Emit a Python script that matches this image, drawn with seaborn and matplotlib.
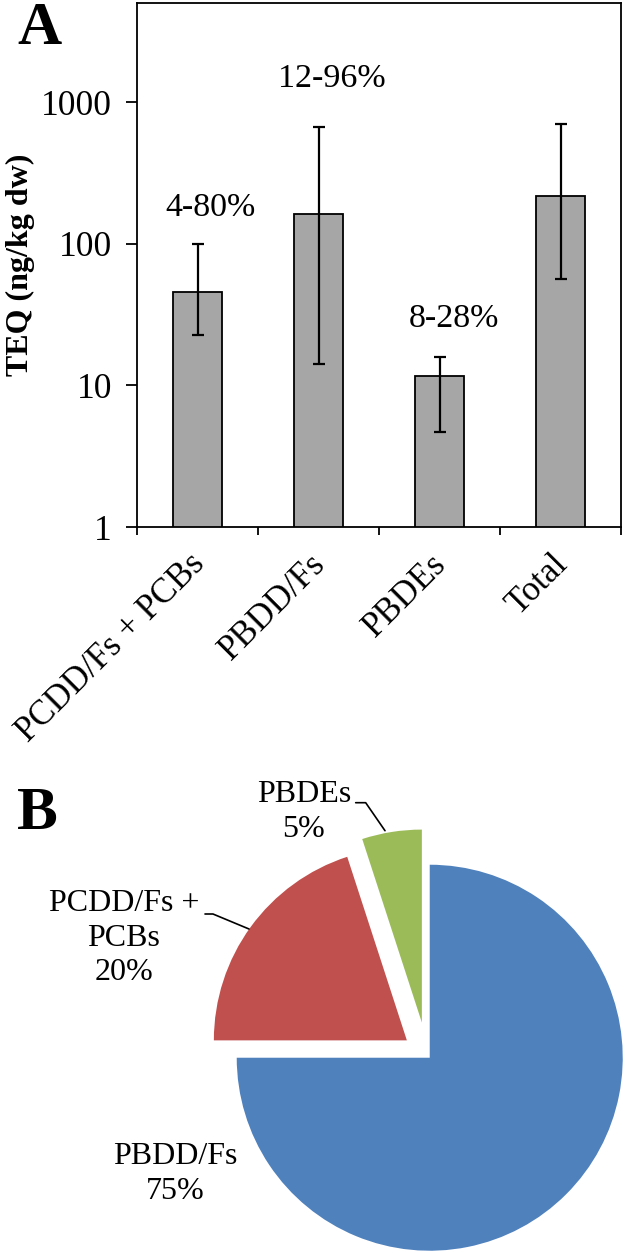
import numpy as np
import pandas as pd
import matplotlib
matplotlib.use("Agg")
import matplotlib.pyplot as plt
from matplotlib.transforms import ScaledTranslation
import seaborn as sns

# ---------------- data ----------------
categories = ["PCDD/Fs + PCBs", "PBDD/Fs", "PBDEs", "Total"]
teq_mean = [45.5, 163, 11.6, 217]
teq_high = [99, 668, 15.9, 705]
teq_low = [22.7, 14.2, 4.7, 56.5]
range_labels = ["4-80%", "12-96%", "8-28%", ""]

pie_names = ["PBDD/Fs", "PCDD/Fs +\nPCBs", "PBDEs"]
pie_shares = [75, 20, 5]
pie_colors = ["#4F81BD", "#C0504D", "#9BBB59"]

y_ticks = [1, 10, 100, 1000]
y_tick_labels = ["1", "10", "100", "1000"]

# ---------------- style ----------------
sns.set_theme(style="ticks")
plt.rcParams["font.family"] = ["Liberation Serif", "DejaVu Serif"]
plt.rcParams["text.color"] = "black"
plt.rcParams["axes.edgecolor"] = "black"
plt.rcParams["xtick.color"] = "black"
plt.rcParams["ytick.color"] = "black"
plt.rcParams["axes.labelcolor"] = "black"

W, H = 625, 1253
fig = plt.figure(figsize=(W / 100, H / 100), dpi=100)

# ---------------- panel A: bar chart ----------------
axL, axR, axT, axB = 137, 621, 3, 527
ax = fig.add_axes([axL / W, 1 - axB / H, (axR - axL) / W, (axB - axT) / H])

df = pd.DataFrame({"cat": categories, "teq": teq_mean})
sns.barplot(data=df, x="cat", y="teq", color="#A6A6A6", edgecolor="black",
            linewidth=1.3, width=0.4, saturation=1, ax=ax)
mean = np.array(teq_mean)
yerr = [mean - np.array(teq_low), np.array(teq_high) - mean]
ax.errorbar(np.arange(len(categories)), mean, yerr=yerr, fmt="none",
            ecolor="black", elinewidth=1.6, capsize=4, capthick=1.6)

ax.set_yscale("log")
ax.set_ylim(1, 5000)
ax.set_xlim(-0.5, len(categories) - 0.5)
ax.set_yticks(y_ticks, y_tick_labels)
ax.yaxis.set_minor_locator(matplotlib.ticker.NullLocator())
ax.tick_params(axis="y", which="major", direction="out", length=8, width=1.3,
               labelsize=25.5, pad=10)

# major x ticks at category boundaries (no labels), minor at centers with labels
ax.set_xticks(np.arange(-0.5, len(categories)), [""] * (len(categories) + 1))
ax.set_xticks(np.arange(len(categories)), categories, minor=True)
ax.tick_params(axis="x", which="major", direction="out", length=6, width=1.3)
ax.tick_params(axis="x", which="minor", length=0, labelsize=25, pad=15)
for lbl in ax.get_xticklabels(minor=True):
    lbl.set_rotation(45)
    lbl.set_ha("right")
    lbl.set_va("top")
    lbl.set_transform(lbl.get_transform() + ScaledTranslation(14 / 100, 0, fig.dpi_scale_trans))

for s in ax.spines.values():
    s.set_visible(True)
    s.set_linewidth(1.3)
    s.set_color("black")

ax.set_xlabel("")
ax.set_ylabel("TEQ (ng/kg dw)", fontsize=23, fontweight="bold", va="center")
ax.yaxis.set_label_coords(-0.2417, 0.5)

# range annotations (layout positions)
ann_x = [0.11, 1.107, 2.12]
ann_y = [157, 1276, 26.0]
for xx, yy, t in zip(ann_x, ann_y, range_labels):
    ax.text(xx, yy, t, ha="center", va="baseline", fontsize=24.5)

fig.text(39.5 / W, 1 - 44 / H, "A", fontsize=44, fontweight="bold",
         ha="center", va="baseline")

# ---------------- panel B: pie chart ----------------
pcx, pcy, pr = 427, 1055, 193
top_px = 760
axp = fig.add_axes([0, 0, 1, (H - top_px) / H])
wedges, _ = axp.pie(pie_shares, colors=pie_colors, startangle=90,
                    counterclock=False, explode=[0.02, 0.129, 0.17],
                    radius=1, wedgeprops=dict(linewidth=0))
axp.set_xlim(-pcx / pr, (W - pcx) / pr)
axp.set_ylim(-(H - pcy) / pr, (pcy - top_px) / pr)
axp.set_aspect("auto")
axp.axis("off")


def P(px, py):
    return ((px - pcx) / pr, (pcy - py) / pr)


pie_label_pos = [P(175, 1174), P(124, 938), P(304, 812)]
for (u, v), name, share in zip(pie_label_pos, pie_names, pie_shares):
    axp.text(u, v, f"{name}\n{share}%", ha="center", va="center",
             multialignment="center", fontsize=23, linespacing=1.27)

# leader lines
leader = dict(arrowstyle="-", color="black", lw=1.2, shrinkA=0, shrinkB=0)
axp.annotate("", xy=P(249, 929), xytext=P(205, 914),
             arrowprops=dict(leader, connectionstyle="angle,angleA=0,angleB=-22.6,rad=0"))
axp.annotate("", xy=P(385, 830.7), xytext=P(355.7, 802.7),
             arrowprops=dict(leader, connectionstyle="angle,angleA=0,angleB=-55.4,rad=0"))

fig.text(37.5 / W, 1 - 829 / H, "B", fontsize=44, fontweight="bold",
         ha="center", va="baseline")

fig.savefig("out.png", dpi=100)
